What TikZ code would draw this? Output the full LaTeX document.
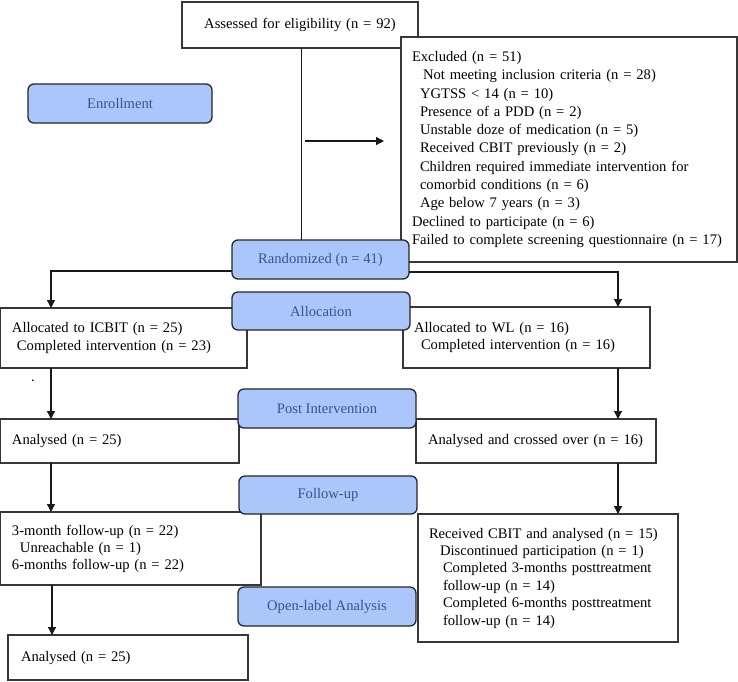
\documentclass[tikz,border=0pt]{standalone}
\usepackage{fontspec}
\setmainfont{Liberation Serif}
\usetikzlibrary{arrows.meta,calc}
\definecolor{phasefill}{RGB}{170,198,250}
\definecolor{phasetext}{RGB}{58,84,140}
\definecolor{boxline}{RGB}{55,55,55}
\begin{document}
\begin{tikzpicture}[x=1pt,y=-1pt,
  box/.style={draw=boxline, line width=1.3pt, rectangle, anchor=north west, outer sep=0pt,
    inner ysep=0pt, align=left, fill=white, font=\fontsize{14.6}{17.5}\selectfont},
  phase/.style={draw=black!85, line width=1.3pt, rounded corners=6pt, fill=phasefill,
    text=phasetext, anchor=north west, outer sep=0pt, inner sep=0pt, align=center,
    font=\fontsize{14.6}{17.5}\selectfont},
  conn/.style={line width=1.2pt, black!90},
  arr/.style={conn, -{Triangle[length=8pt,width=8pt]}}]
\useasboundingbox (0,0) rectangle (738,681);

% white boxes
\node[box, align=center, inner xsep=8pt, text width=220pt, minimum height=46pt] (assessed) at (182,2)
  {Assessed for eligibility (n = 92)};
\node[box, inner xsep=11pt, text width=314pt, minimum height=225pt, font=\fontsize{14.6}{18.3}\selectfont] (excl) at (401,37)
  {\mbox{Excluded (n = 51)}\\
   \mbox{\hspace*{11pt}Not meeting inclusion criteria (n = 28)}\\
   \mbox{\hspace*{8pt}YGTSS < 14 (n = 10)}\\
   \mbox{\hspace*{8pt}Presence of a PDD (n = 2)}\\
   \mbox{\hspace*{8pt}Unstable doze of medication (n = 5)}\\
   \mbox{\hspace*{8pt}Received CBIT previously (n = 2)}\\
   \mbox{\hspace*{8pt}Children required immediate intervention for}\\
   \mbox{\hspace*{8pt}comorbid conditions (n = 6)}\\
   \mbox{\hspace*{8pt}Age below 7 years (n = 3)}\\
   \mbox{Declined to participate (n = 6)}\\
   \mbox{Failed to complete screening questionnaire (n = 17)}};
\node[box, inner xsep=12pt, text width=223pt, minimum height=60pt] (icbit) at (0,308)
  {\mbox{Allocated to ICBIT (n = 25)}\\
   \mbox{\hspace*{5pt}Completed intervention (n = 23)}};
\node[box, inner xsep=11pt, text width=225pt, minimum height=61pt] (wl) at (403,307)
  {\mbox{Allocated to WL (n = 16)}\\
   \mbox{\hspace*{7pt}Completed intervention (n = 16)}};
\node[box, inner xsep=12pt, text width=215pt, minimum height=44pt] (anl) at (0,419)
  {Analysed (n = 25)};
\node[box, inner xsep=12pt, text width=216pt, minimum height=44pt] (cross) at (416,419)
  {\mbox{Analysed and crossed over (n = 16)}};
\node[box, inner xsep=12pt, text width=237pt, minimum height=73pt, font=\fontsize{14.6}{17}\selectfont] (three) at (0,512)
  {\mbox{3-month follow-up (n = 22)}\\
   \mbox{\hspace*{8pt}Unreachable (n = 1)}\\
   \mbox{6-months follow-up (n = 22)}};
\node[box, inner xsep=11pt, text width=238pt, minimum height=128pt, font=\fontsize{14.6}{17.4}\selectfont] (recv) at (418,514)
  {\mbox{Received CBIT and analysed (n = 15)}\\
   \mbox{\hspace*{11pt}Discontinued participation (n = 1)}\\
   \mbox{\hspace*{14pt}Completed 3-months posttreatment}\\
   \mbox{\hspace*{14pt}follow-up (n = 14)}\\
   \mbox{\hspace*{14pt}Completed 6-months posttreatment}\\
   \mbox{\hspace*{14pt}follow-up (n = 14)}};
\node[box, inner xsep=13pt, text width=214pt, minimum height=45pt] (anl2) at (8,635)
  {Analysed (n = 25)};

% stray mark
\node[inner sep=0pt, anchor=base, font=\fontsize{14.6}{17.5}\selectfont] (dot) at (33,381) {.};

% phase labels
\node[phase, minimum width=184pt, minimum height=39pt] (enroll) at (28,84) {Enrollment};
\node[phase, minimum width=177pt, minimum height=39pt] (rand) at (232,240) {Randomized (n = 41)};
\node[phase, minimum width=178pt, minimum height=38pt] (alloc) at (232,292) {Allocation};
\node[phase, minimum width=178pt, minimum height=39pt] (post) at (238,389) {Post Intervention};
\node[phase, minimum width=178pt, minimum height=38pt] (follow) at (239,476) {Follow-up};
\node[phase, minimum width=178pt, minimum height=39pt] (open) at (238,587) {Open-label Analysis};

% connectors
\draw[conn] ([xshift=1.5pt]assessed.south) -- ([xshift=1.5pt]assessed.south |- rand.north);
\coordinate (exA) at (305,141);
\coordinate (exB) at (384,141);
\draw[arr] (exA) -- (exB);
\draw[arr] ([yshift=-11.5pt]rand.west) -| ($(icbit.north west)+(51,0)$);
\draw[arr] ([yshift=-12.5pt]rand.east) -| ($(wl.north west)+(215,0)$);
\draw[arr] ($(icbit.south west)+(51,0)$) -- ($(anl.north west)+(51,0)$);
\draw[arr] ($(wl.south west)+(215,0)$) -- ($(cross.north west)+(202,0)$);
\draw[arr] ($(anl.south west)+(51,0)$) -- ($(three.north west)+(51,0)$);
\draw[arr] ($(cross.south west)+(202,0)$) -- ($(recv.north west)+(200,0)$);
\draw[arr] ($(three.south west)+(52,0)$) -- ($(anl2.north west)+(44,0)$);
\end{tikzpicture}
\end{document}
